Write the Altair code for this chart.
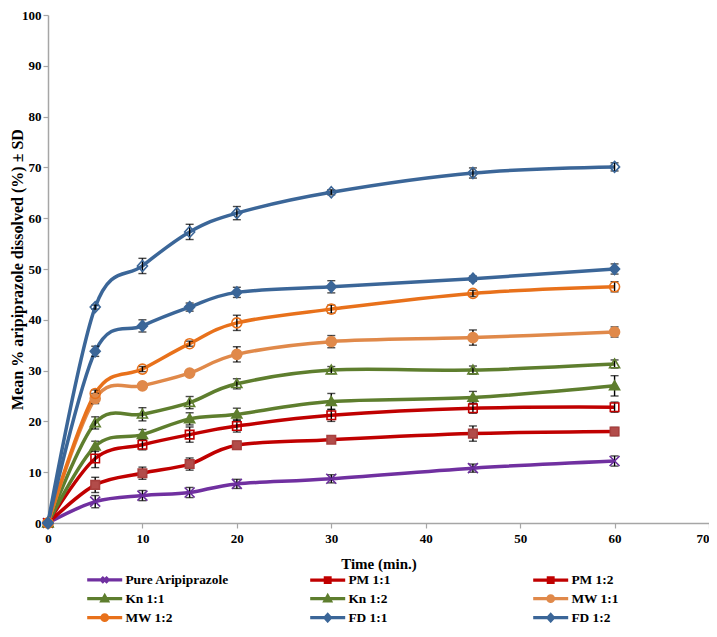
import altair as alt
import pandas as pd

# ---------------- data ----------------
times = [0, 5, 10, 15, 20, 30, 45, 60]
series = ["Pure Aripiprazole", "PM 1:1", "PM 1:2", "Kn 1:1", "Kn 1:2",
          "MW 1:1", "MW 1:2", "FD 1:1", "FD 1:2"]

pure = [0, 4.2, 5.4, 6.0, 7.7, 8.7, 10.8, 12.2]
pm11 = [0, 7.5, 9.8, 11.6, 15.3, 16.4, 17.6, 18.0]
pm12 = [0, 12.7, 15.4, 17.4, 19.1, 21.2, 22.6, 22.8]
kn11 = [0, 15.1, 17.4, 20.5, 21.4, 23.9, 24.7, 27.0]
kn12 = [0, 19.7, 21.4, 23.7, 27.4, 30.1, 30.1, 31.3]
mw11 = [0, 24.5, 27.0, 29.5, 33.2, 35.7, 36.5, 37.6]
mw12 = [0, 25.5, 30.3, 35.3, 39.4, 42.1, 45.2, 46.5]
fd11 = [0, 33.8, 38.8, 42.5, 45.4, 46.5, 48.1, 50.0]
fd12 = [0, 42.5, 50.6, 57.3, 61.0, 65.1, 68.9, 70.1]

sd_pure = [0, 1.2, 1.0, 1.0, 0.9, 0.8, 0.8, 1.0]
sd_pm11 = [0, 1.5, 1.2, 1.2, 0.8, 0.5, 1.5, 0.8]
sd_pm12 = [0, 1.8, 1.0, 1.5, 1.2, 1.2, 1.0, 1.0]
sd_kn11 = [0, 1.0, 1.0, 1.2, 1.2, 1.6, 1.2, 2.0]
sd_kn12 = [0, 1.2, 1.3, 1.2, 1.0, 0.7, 0.8, 0.8]
sd_mw11 = [0, 1.0, 0.5, 0.5, 1.5, 1.2, 1.5, 1.0]
sd_mw12 = [0, 0.7, 0.5, 0.5, 1.5, 0.8, 0.6, 1.0]
sd_fd11 = [0, 1.0, 1.2, 0.8, 1.0, 1.2, 0.5, 1.0]
sd_fd12 = [0, 0.4, 1.5, 1.5, 1.3, 0.5, 1.0, 0.8]

means = [pure, pm11, pm12, kn11, kn12, mw11, mw12, fd11, fd12]
sds = [sd_pure, sd_pm11, sd_pm12, sd_kn11, sd_kn12, sd_mw11, sd_mw12, sd_fd11, sd_fd12]

# ---------------- styles ----------------
line_colors = ["#7030A0", "#C00000", "#C00000", "#5E7E2E", "#5E7E2E",
               "#E0894A", "#E8711B", "#3B6698", "#3B6698"]
marker_fill = ["transparent", "#B24C4A", "transparent", "#5E7E2E", "transparent",
               "#E0894A", "transparent", "#3B6698", "transparent"]
marker_stroke = ["#6A2E9C", "#A8403E", "#C00000", "#5E7E2E", "#5E7E2E",
                 "#E0894A", "#E8711B", "#3B6698", "#3B6698"]
marker_kind = ["x", "square", "square", "triangle", "triangle",
               "circle", "circle", "diamond", "diamond"]


def f(v):
    return f"{v:.3f}"


def glyph(kind, s):
    if kind == "x":
        return f"M{f(-s)},{f(-s)}L{f(s)},{f(s)}M{f(-s)},{f(s)}L{f(s)},{f(-s)}"
    if kind == "square":
        a = 0.85 * s
        return f"M{f(-a)},{f(-a)}H{f(a)}V{f(a)}H{f(-a)}Z"
    if kind == "triangle":
        return f"M0,{f(-s)}L{f(s)},{f(0.75 * s)}H{f(-s)}Z"
    if kind == "circle":
        return f"M{f(s)},0A{f(s)},{f(s)},0,1,1,{f(-s)},0A{f(s)},{f(s)},0,1,1,{f(s)},0Z"
    return f"M0,{f(-1.1 * s)}L{f(s)},0L0,{f(1.1 * s)}L{f(-s)},0Z"


plot_shapes = [glyph(k, 1.0) for k in marker_kind]
legend_shapes = ["M-3.2,-0.03H3.2V0.03H-3.2Z" + glyph(k, 0.58) for k in marker_kind]

rows = []
for name, m, s in zip(series, means, sds):
    for t, v, e in zip(times, m, s):
        rows.append({"series": name, "time": t, "value": v, "sd": e,
                     "lo": v - e, "hi": v + e})
df = pd.DataFrame(rows)

FONT = "Liberation Serif"
YTITLE = "Mean % aripiprazole dissolved (%) ± SD"

x_enc = alt.X("time:Q", scale=alt.Scale(domain=[0, 70], nice=False),
              axis=alt.Axis(values=list(range(0, 71, 10)), title="Time (min.)",
                            grid=False, domainColor="#A6A6A6", domainWidth=1.5,
                            tickColor="#A6A6A6", tickSize=5, tickWidth=1.2,
                            labelFont=FONT, labelFontSize=13, labelFontWeight="bold",
                            labelColor="black", labelPadding=4,
                            labelAlign={"expr": "datum.value >= 70 ? 'right' : 'center'"},
                            titleFont=FONT, titleFontSize=15, titleFontWeight="bold",
                            titleColor="black", titleY=40, titleBaseline="middle"))
y_axis = alt.Axis(values=list(range(0, 101, 10)), grid=False,
                  domainColor="#A6A6A6", domainWidth=1.5,
                  tickColor="#A6A6A6", tickSize=5, tickWidth=1.2,
                  labelFont=FONT, labelFontSize=13, labelFontWeight="bold",
                  labelColor="black", labelPadding=2,
                  titleFont=FONT, titleFontSize=16, titleFontWeight="bold",
                  titleColor="black", titleX=-31, titleBaseline="middle")
y_scale = alt.Scale(domain=[0, 100], nice=False)

base = alt.Chart(df)

lines = base.mark_line(strokeWidth=3.5, interpolate="cardinal", tension=0).encode(
    x=x_enc,
    y=alt.Y("value:Q", scale=y_scale, axis=y_axis, title=YTITLE),
    color=alt.Color("series:N", scale=alt.Scale(domain=series, range=line_colors), legend=None),
)

errs = base.transform_filter("datum.sd > 0").mark_errorbar(
    color="black", thickness=1.4, ticks={"size": 8, "thickness": 1.4, "color": "black"}
).encode(
    x=alt.X("time:Q"),
    y=alt.Y("lo:Q", scale=y_scale, title=YTITLE),
    y2="hi:Q",
)

points = base.mark_point(size=100, strokeWidth=1.6, filled=True, opacity=1).encode(
    x=alt.X("time:Q"),
    y=alt.Y("value:Q", scale=y_scale, title=YTITLE),
    shape=alt.Shape("series:N", scale=alt.Scale(domain=series, range=plot_shapes), legend=None),
    fill=alt.Fill("series:N", scale=alt.Scale(domain=series, range=marker_fill), legend=None),
    stroke=alt.Stroke("series:N", scale=alt.Scale(domain=series, range=marker_stroke), legend=None),
)


def leg():
    return alt.Legend(title=None, orient="none", legendX=50, legendY=558,
                      direction="horizontal", columns=3, gridAlign="all",
                      columnPadding=76, rowPadding=0, symbolSize=100, padding=0,
                      symbolOpacity=1, symbolStrokeWidth=3,
                      labelFont=FONT, labelFontSize=13.4,
                      labelFontWeight="bold", labelColor="black",
                      labelOffset=14, labelLimit=200)


legend_layer = base.transform_filter("datum.time == 0").mark_point(
    size=1, strokeWidth=3, filled=True, opacity=0
).encode(
    x=alt.X("time:Q"),
    y=alt.Y("value:Q", scale=y_scale, title=YTITLE),
    shape=alt.Shape("series:N", scale=alt.Scale(domain=series, range=legend_shapes), legend=leg()),
    fill=alt.Fill("series:N", scale=alt.Scale(domain=series, range=marker_fill), legend=leg()),
    stroke=alt.Stroke("series:N", scale=alt.Scale(domain=series, range=line_colors), legend=leg()),
)

chart = alt.layer(lines, errs, points, legend_layer).resolve_scale(
    shape="independent", stroke="independent", fill="independent"
).properties(
    width=661, height=508,
    autosize=alt.AutoSizeParams(type="none"),
    padding={"left": 40, "top": 7, "right": 0, "bottom": 100},
    background="white",
).configure_view(stroke=None)

chart.save("out.html", embed_options={"renderer": "svg", "actions": False})
